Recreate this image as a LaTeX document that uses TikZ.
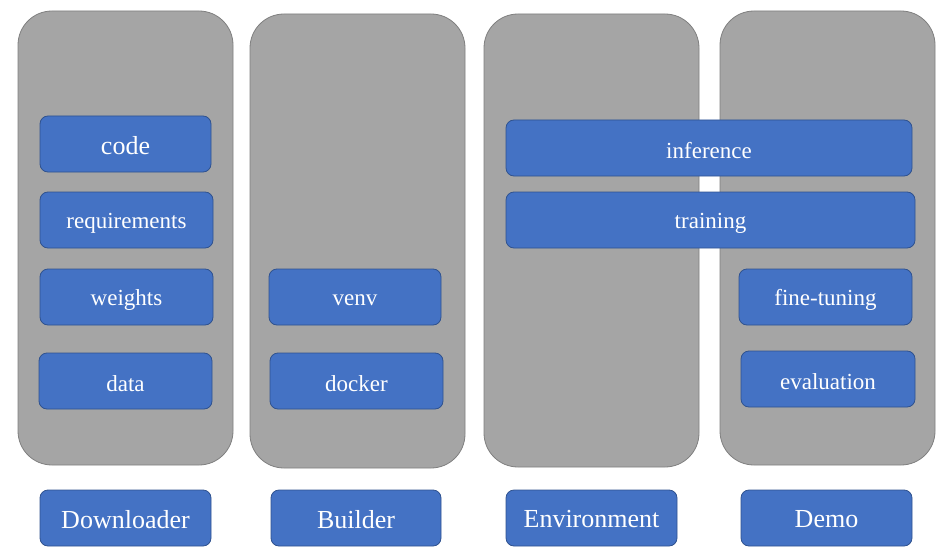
\documentclass[tikz,border=0pt]{standalone}
\usepackage{fontspec}
\setmainfont{Liberation Serif}
\definecolor{colfill}{HTML}{A5A5A5}
\definecolor{colline}{HTML}{7F7F7F}
\definecolor{boxfill}{HTML}{4472C4}
\definecolor{boxline}{HTML}{2F528F}
\tikzset{
  column/.style={draw=colline, fill=colfill, line width=0.8pt, rounded corners=34pt},
  item/.style={draw=boxline, fill=boxfill, line width=0.8pt, rounded corners=8pt},
  itemtext/.style={text=white, font=\fontsize{23}{27}\selectfont, yshift=-3pt},
  bigtext/.style={text=white, font=\fontsize{26}{30}\selectfont, yshift=-1.5pt},
}
\begin{document}
\begin{tikzpicture}[x=1pt, y=-1pt]
\useasboundingbox (0,0) rectangle (944,559);
% columns
\path[column] (18,11) rectangle (233,465);
\path[column] (250,14) rectangle (465,468);
\path[column] (484,14) rectangle (699,467);
\path[column] (720,11) rectangle (935,465);
% items
\path[item] (40,116) rectangle (211,172) node[midway, bigtext] (code) {code};
\path[item] (40,192) rectangle (213,248) node[midway, itemtext] (req) {requirements};
\path[item] (40,269) rectangle (213,325) node[midway, itemtext] (weights) {weights};
\path[item] (39,353) rectangle (212,409) node[midway, itemtext] (data) {data};
\path[item] (269,269) rectangle (441,325) node[midway, itemtext] (venv) {venv};
\path[item] (270,353) rectangle (443,409) node[midway, itemtext] (docker) {docker};
\path[item] (506,120) rectangle (912,176) node[midway, itemtext] (inference) {inference};
\path[item] (506,192) rectangle (915,248) node[midway, itemtext] (training) {training};
\path[item] (739,269) rectangle (912,325) node[midway, itemtext] (finetuning) {fine-tuning};
\path[item] (741,351) rectangle (915,407) node[midway, itemtext] (evaluation) {evaluation};
% labels
\path[item] (40,490) rectangle (211,546) node[midway, bigtext] (downloader) {Downloader};
\path[item] (271,490) rectangle (441,546) node[midway, bigtext] (builder) {Builder};
\path[item] (506,490) rectangle (677,546) node[midway, bigtext] (environment) {Environment};
\path[item] (741,490) rectangle (912,546) node[midway, bigtext] (demo) {Demo};
\end{tikzpicture}
\end{document}
